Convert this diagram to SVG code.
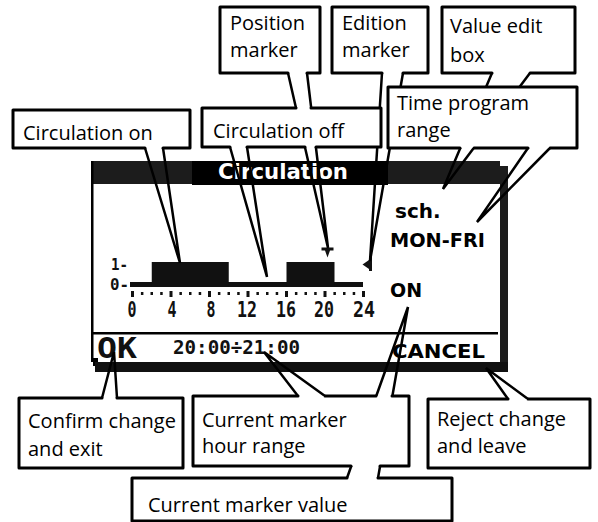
<svg xmlns="http://www.w3.org/2000/svg" width="598" height="522" viewBox="0 0 598 522">
<style>
.bg{fill:#fff;stroke:none}
.edge{fill:none;stroke:#000;stroke-width:3;stroke-linejoin:round;stroke-linecap:round}
.tail{fill:none;stroke:#000;stroke-width:2.5;stroke-linejoin:miter;stroke-linecap:round}
.lbl{font-family:"Open Sans","Noto Sans",sans-serif;font-size:20px;fill:#000}
.lcd{font-family:"DejaVu Sans",sans-serif;font-weight:bold;fill:#000}
.pix{font-family:"DejaVu Sans Mono",monospace;font-weight:bold;fill:#111}
.dk{fill:#1c1c1c}
.blk{fill:#111}
</style>
<defs>
<rect id="mn" width="2.5" height="3" class="blk"/>
<rect id="mj" width="3" height="6" class="blk"/>
</defs>

<g id="lcd">
  <rect x="91" y="161" width="417" height="211" fill="#fff"/>
  <rect x="91" y="161" width="101" height="23" class="dk"/>
  <rect x="192" y="161" width="196" height="24" fill="#000"/>
  <rect x="388" y="161" width="112" height="23" class="dk"/>
  <rect x="500" y="166" width="8" height="206" class="dk"/>
  <rect x="91" y="161" width="2.5" height="201" fill="#000"/>
  <rect x="93" y="358" width="5" height="8" fill="#000"/>
  <rect x="95" y="362" width="413" height="10" class="blk"/>
  <rect x="93" y="332" width="405" height="2.5" fill="#000"/>
  <text x="218" y="179" class="lcd" font-size="21" style="fill:#fff" textLength="130" lengthAdjust="spacingAndGlyphs">Circulation</text>

  <g id="chart">
    <text x="111" y="270" class="pix" font-size="16" textLength="17" lengthAdjust="spacingAndGlyphs">1-</text>
    <text x="110" y="290" class="pix" font-size="16" textLength="19" lengthAdjust="spacingAndGlyphs">0-</text>
    <rect x="130" y="282" width="233" height="5" class="blk"/>
    <rect x="151.75" y="262" width="77" height="25" class="blk"/>
    <rect x="286.5" y="262" width="48" height="25" class="blk"/>
    <polygon points="321.5,247.5 333.5,247.5 333.5,250.5 330,250.5 327.5,257.5 325,250.5 321.5,250.5" class="blk"/>
    <rect x="369" y="257" width="3" height="14" class="blk"/>
    <polygon points="362.5,264.5 369,260 369,269" class="blk"/>
    <g id="ticks">
      <use href="#mj" x="131" y="291"/>
      <use href="#mn" x="140.9" y="292"/>
      <use href="#mn" x="150.5" y="292"/>
      <use href="#mn" x="160.2" y="292"/>
      <use href="#mj" x="169.5" y="291"/>
      <use href="#mn" x="179.4" y="292"/>
      <use href="#mn" x="189" y="292"/>
      <use href="#mn" x="198.7" y="292"/>
      <use href="#mj" x="208" y="291"/>
      <use href="#mn" x="217.9" y="292"/>
      <use href="#mn" x="227.5" y="292"/>
      <use href="#mn" x="237.2" y="292"/>
      <use href="#mj" x="246.5" y="291"/>
      <use href="#mn" x="256.4" y="292"/>
      <use href="#mn" x="266" y="292"/>
      <use href="#mn" x="275.7" y="292"/>
      <use href="#mj" x="285" y="291"/>
      <use href="#mn" x="294.9" y="292"/>
      <use href="#mn" x="304.5" y="292"/>
      <use href="#mn" x="314.2" y="292"/>
      <use href="#mj" x="323.5" y="291"/>
      <use href="#mn" x="333.4" y="292"/>
      <use href="#mn" x="343" y="292"/>
      <use href="#mn" x="352.7" y="292"/>
      <use href="#mj" x="362" y="291"/>
    </g>
    <g class="pix" font-size="21" text-anchor="middle">
      <text x="132" y="317" textLength="9" lengthAdjust="spacingAndGlyphs">0</text>
      <text x="172" y="317" textLength="9" lengthAdjust="spacingAndGlyphs">4</text>
      <text x="211" y="317" textLength="9" lengthAdjust="spacingAndGlyphs">8</text>
      <text x="247" y="317" textLength="20" lengthAdjust="spacingAndGlyphs">12</text>
      <text x="286" y="317" textLength="20" lengthAdjust="spacingAndGlyphs">16</text>
      <text x="324" y="317" textLength="20" lengthAdjust="spacingAndGlyphs">20</text>
      <text x="364" y="317" textLength="22" lengthAdjust="spacingAndGlyphs">24</text>
    </g>
  </g>

  <text x="395" y="218" class="lcd" font-size="20">sch.</text>
  <text x="390" y="247" class="lcd" font-size="19" textLength="95" lengthAdjust="spacingAndGlyphs">MON-FRI</text>
  <text x="390" y="297" class="lcd" font-size="19">ON</text>
  <text x="97" y="358" class="pix" font-size="29" textLength="40" lengthAdjust="spacingAndGlyphs">OK</text>
  <text x="173" y="354" class="pix" font-size="19" textLength="127" lengthAdjust="spacingAndGlyphs">20:00÷21:00</text>
  <text x="392" y="358" class="lcd" font-size="19" textLength="93" lengthAdjust="spacingAndGlyphs">CANCEL</text>
</g>

<g id="connectors">
  <path class="tail" d="M288,73 L328,248 L307,73"/>
  <path class="tail" d="M382,73 L370,261 L403,73"/>
  <path class="tail" d="M492,73 L443,189 L530,73"/>
  <path class="tail" d="M230,147 L267,277 L247,147"/>
  <path class="tail" d="M528,148 L477,222 L550,148"/>
  <path class="tail" d="M145,148 L180,263 L163,148"/>
  <path class="tail" d="M347,478 L408,307 L378,478"/>
  <path class="tail" d="M298,396 L264,352 L325,396"/>
  <path class="tail" d="M102,398 L114,352 L117,398"/>
  <path class="tail" d="M508,399 L486,368 L528,399"/>
</g>

<g id="position-marker">
  <rect class="bg" x="220" y="7" width="100" height="66"/>
  <path class="edge" d="M288,73 L220,73 L220,7 L320,7 L320,73 L307,73"/>
  <text class="lbl" x="230" y="30">Position</text>
  <text class="lbl" x="230" y="57">marker</text>
</g>

<g id="edition-marker">
  <rect class="bg" x="332" y="7" width="96" height="66"/>
  <path class="edge" d="M382,73 L332,73 L332,7 L428,7 L428,73 L403,73"/>
  <text class="lbl" x="342" y="30">Edition</text>
  <text class="lbl" x="342" y="57">marker</text>
</g>

<g id="value-edit-box">
  <rect class="bg" x="442" y="7" width="133" height="66"/>
  <path class="edge" d="M492,73 L442,73 L442,7 L575,7 L575,73 L530,73"/>
  <text class="lbl" x="450" y="33">Value edit</text>
  <text class="lbl" x="450" y="62">box</text>
</g>

<g id="circulation-off">
  <rect class="bg" x="202" y="108" width="179" height="39"/>
  <path class="edge" d="M230,147 L202,147 L202,108 L296,108 M311,108 L381,108 L381,147 L316,147 M305,147 L247,147"/>
  <text class="lbl" x="213" y="138">Circulation off</text>
</g>

<g id="time-program-range">
  <rect class="bg" x="388" y="87" width="189" height="61"/>
  <path class="edge" d="M460,148 L388,148 L388,87 L577,87 L577,148 L550,148 M528,148 L474,148"/>
  <text class="lbl" x="397" y="110">Time program</text>
  <text class="lbl" x="397" y="137">range</text>
</g>

<g id="circulation-on">
  <rect class="bg" x="13" y="110" width="177" height="38"/>
  <path class="edge" d="M145,148 L13,148 L13,110 L190,110 L190,148 L163,148"/>
  <text class="lbl" x="23" y="140">Circulation on</text>
</g>

<g id="current-marker-value">
  <rect class="bg" x="132" y="478" width="320" height="43"/>
  <path class="edge" d="M347,478 L132,478 L132,521 L452,521 L452,478 L378,478"/>
  <text class="lbl" x="148" y="512">Current marker value</text>
</g>

<g id="current-marker-hour-range">
  <rect class="bg" x="193" y="396" width="216" height="70"/>
  <path class="edge" d="M298,396 L193,396 L193,466 L351,466 M380,466 L409,466 L409,396 L392,396 M376,396 L325,396"/>
  <text class="lbl" x="202" y="427">Current marker</text>
  <text class="lbl" x="202" y="453">hour range</text>
</g>

<g id="confirm-change">
  <rect class="bg" x="19" y="398" width="164" height="70"/>
  <path class="edge" d="M102,398 L19,398 L19,468 L183,468 L183,398 L117,398"/>
  <text class="lbl" x="28" y="428">Confirm change</text>
  <text class="lbl" x="28" y="456">and exit</text>
</g>

<g id="reject-change">
  <rect class="bg" x="428" y="399" width="162" height="69"/>
  <path class="edge" d="M508,399 L428,399 L428,468 L590,468 L590,399 L528,399"/>
  <text class="lbl" x="437" y="426">Reject change</text>
  <text class="lbl" x="437" y="453">and leave</text>
</g>
</svg>
